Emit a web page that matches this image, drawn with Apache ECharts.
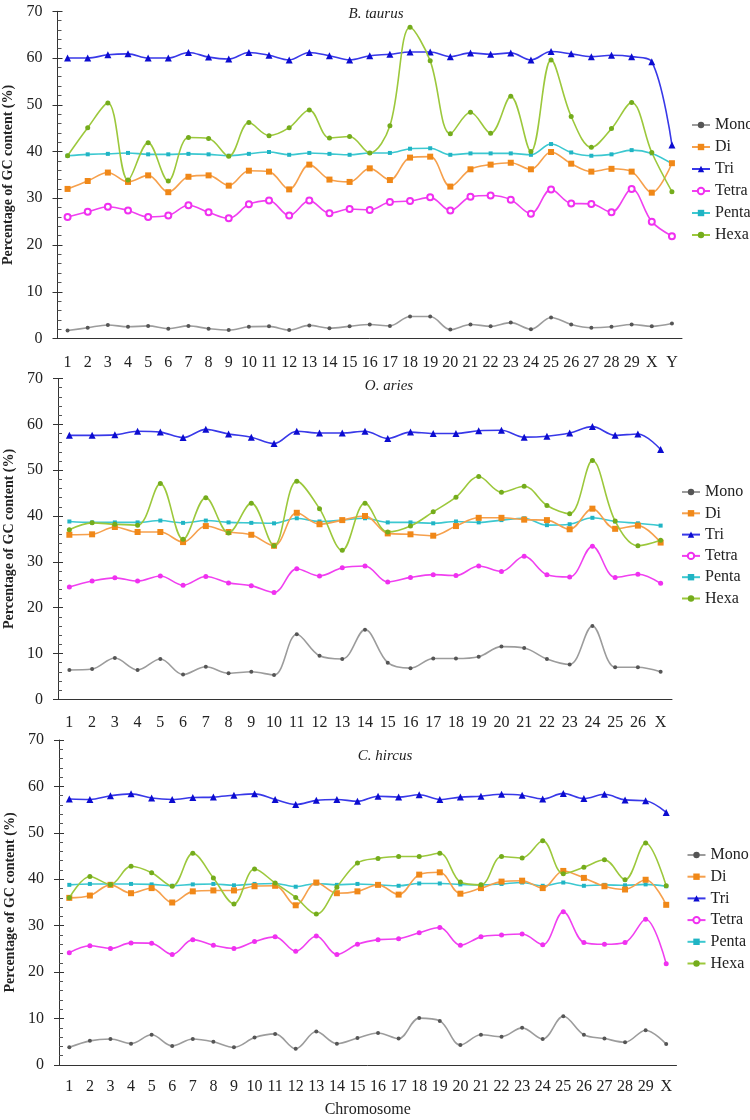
<!DOCTYPE html>
<html><head><meta charset="utf-8">
<script src="https://cdn.jsdelivr.net/npm/echarts@6/dist/echarts.min.js"></script>
<style>html,body{margin:0;padding:0;background:#fff}#c{width:750px;height:1120px}</style>
</head><body><div id="c"></div>
<script>
// ---------- data ----------
const seriesNames = ['Mono', 'Di', 'Tri', 'Tetra', 'Penta', 'Hexa'];
const panelTitles = ['B. taurus', 'O. aries', 'C. hircus'];
const yAxisName = 'Percentage of GC content (%)';
const xAxisName = 'Chromosome';

const catsTaurus = ['1','2','3','4','5','6','7','8','9','10','11','12','13','14','15','16','17','18','19','20','21','22','23','24','25','26','27','28','29','X','Y'];
const catsAries  = ['1','2','3','4','5','6','7','8','9','10','11','12','13','14','15','16','17','18','19','20','21','22','23','24','25','26','X'];
const catsHircus = ['1','2','3','4','5','6','7','8','9','10','11','12','13','14','15','16','17','18','19','20','21','22','23','24','25','26','27','28','29','X'];

// B. taurus
const taurusMono  = [1.7,2.3,2.9,2.5,2.7,2.1,2.7,2.1,1.8,2.5, 2.6,1.8,2.8,2.2,2.6,3.0,2.7,4.7,4.7,1.9, 3.0,2.6,3.4,2.0,4.5,3.0,2.3,2.5,3.0, 2.6,3.2];
const taurusDi    = [32.0,33.7,35.5,33.5,34.9,31.3,34.6,34.9,32.7,35.9, 35.7,31.9,37.2,34.0,33.5,36.4,33.9,38.7,38.9,32.5, 36.2,37.2,37.6,36.2,39.9,37.4,35.7,36.3,35.7, 31.2,37.5];
const taurusTri   = [60.0,60.0,60.7,60.9,60.0,60.0,61.2,60.2,59.8,61.2, 60.6,59.6,61.2,60.5,59.6,60.5,60.8,61.3,61.3,60.3, 61.1,60.8,61.1,59.6,61.4,60.9,60.3,60.6,60.3, 59.2,41.4];
const taurusTetra = [26.0,27.1,28.2,27.4,26.0,26.3,28.5,27.0,25.7,28.7, 29.5,26.3,29.5,26.8,27.7,27.5,29.2,29.4,30.2,27.4, 30.3,30.6,29.7,26.7,31.9,28.9,28.8,27.0,32.0, 25.0,21.9];
const taurusPenta = [39.1,39.4,39.5,39.7,39.4,39.4,39.5,39.4,39.1,39.5, 39.9,39.3,39.7,39.5,39.3,39.7,39.7,40.6,40.7,39.3, 39.6,39.6,39.6,39.3,41.6,39.8,39.1,39.4,40.3, 39.6,37.4];
const taurusHexa  = [39.1,45.1,50.4,33.9,41.9,33.7,43.0,42.8,39.0,46.2, 43.4,45.1,48.9,42.9,43.2,39.7,45.5,66.6,59.4,43.8, 48.4,43.9,51.8,40.0,59.6,47.5,40.9,44.9,50.5, 39.8,31.4];

// O. aries
const ariesMono  = [6.4,6.6,9.0,6.4,8.8,5.4,7.1,5.7,6.0,5.3, 14.2,9.5,8.8,15.2,8.0,6.8,8.9,8.9,9.3,11.5, 11.2,8.8,7.6,16.0,7.0,7.0, 6.0];
const ariesDi    = [35.9,36.0,37.6,36.5,36.5,34.3,37.8,36.5,35.9,33.5, 40.7,38.2,39.1,40.0,36.2,36.0,35.7,37.8,39.6,39.6, 39.2,39.1,37.1,41.6,37.2,37.9, 34.2];
const ariesTri   = [57.6,57.6,57.7,58.5,58.3,57.1,58.9,57.9,57.2,55.8, 58.5,58.1,58.1,58.5,56.9,58.3,58.0,58.0,58.6,58.7, 57.2,57.4,58.1,59.5,57.6,57.9, 54.5];
const ariesTetra = [24.5,25.8,26.5,25.8,26.9,24.9,26.8,25.4,24.8,23.3, 28.5,26.9,28.7,29.1,25.6,26.6,27.2,27.0,29.1,27.9, 31.2,27.2,26.7,33.4,26.6,27.3, 25.3];
const ariesPenta = [38.8,38.6,38.6,38.6,39.0,38.5,39.0,38.6,38.5,38.4, 39.5,38.8,39.1,39.5,38.6,38.6,38.4,38.8,38.6,39.1, 39.5,38.0,38.2,39.6,38.8,38.4, 37.9];
const ariesHexa  = [37.0,38.5,38.2,38.0,47.1,34.9,44.0,36.3,42.8,33.5, 47.6,41.6,32.5,42.8,36.5,37.8,40.9,44.1,48.6,45.2, 46.5,42.3,40.5,52.1,38.9,33.5, 34.7];

// C. hircus
const hircusMono  = [3.8,5.2,5.6,4.6,6.5,4.1,5.6,5.0,3.8,5.9, 6.7,3.5,7.2,4.6,5.8,6.9,5.7,10.1,9.5,4.3, 6.5,6.1,8.0,5.6,10.5,6.5,5.7,4.9,7.5, 4.5];
const hircusDi    = [36.0,36.5,38.8,37.0,38.1,35.0,37.4,37.6,37.6,38.5, 38.6,34.4,39.3,37.0,37.4,38.8,36.7,41.0,41.5,36.9, 38.1,39.5,39.7,38.1,41.8,40.3,38.5,37.8,39.9, 34.5];
const hircusTri   = [57.3,57.2,58.0,58.4,57.5,57.2,57.6,57.7,58.1,58.4, 57.2,56.1,57.0,57.2,56.8,57.9,57.7,58.2,57.2,57.7, 57.9,58.3,58.1,57.3,58.5,57.4,58.3,57.1,56.9, 54.4];
const hircusTetra = [24.2,25.7,25.1,26.3,26.2,23.8,27.0,25.8,25.1,26.6, 27.6,24.5,27.8,23.8,26.0,27.0,27.2,28.5,29.6,25.8, 27.6,28.0,28.2,25.9,33.0,26.4,26.0,26.4,31.4, 21.8];
const hircusPenta = [38.8,39.0,39.0,39.0,38.9,38.6,38.9,39.0,38.7,39.0, 39.1,38.4,39.1,38.8,39.0,38.8,38.6,39.1,39.1,38.9, 38.8,39.0,39.3,38.6,39.3,38.6,38.8,38.7,38.9, 38.5];
const hircusHexa  = [36.0,40.6,38.9,42.8,41.4,38.5,45.6,40.3,34.7,42.2, 39.2,36.1,32.5,38.3,43.5,44.5,44.9,44.9,45.6,39.4, 38.8,44.9,44.6,48.3,41.2,42.6,44.2,39.9,47.8, 38.6];

// ---------- styling ----------
const FONT = '"Liberation Serif", "Times New Roman", serif';
const TXT = '#222';
const lineColors = { Mono: '#9c9c9c', Di: '#f6a04c', Tri: '#3838e8', Tetra: '#f040f0', Penta: '#3cc8d0', Hexa: '#9cc83c' };
const markColors = { Mono: '#555555', Di: '#f08818', Tri: '#0c0cd0', Tetra: '#f030f0', Penta: '#20b4c4', Hexa: '#74ac1c' };
const symbolOf = { Mono: 'circle', Di: 'rect', Tri: 'triangle', Tetra: 'circle', Penta: 'rect', Hexa: 'circle' };
const sizeOf = { Mono: 4, Di: 6, Tri: 7, Tetra: 5, Penta: 4, Hexa: 5 };

const panels = [
  { cats: catsTaurus, data: [taurusMono, taurusDi, taurusTri, taurusTetra, taurusPenta, taurusHexa],
    grid: { left: 57.5, top: 11.3, width: 624.5, height: 327.2 }, legend: { left: 686, top: 112, gap: 6 },
    title: { x: 376, y: 14 }, tetraEmpty: true, labelMargin: 16 },
  { cats: catsAries, data: [ariesMono, ariesDi, ariesTri, ariesTetra, ariesPenta, ariesHexa],
    grid: { left: 58, top: 378.5, width: 614, height: 320.8 }, legend: { left: 676, top: 479, gap: 5.3 },
    title: { x: 389, y: 386 }, tetraEmpty: false, labelMargin: 15 },
  { cats: catsHircus, data: [hircusMono, hircusDi, hircusTri, hircusTetra, hircusPenta, hircusHexa],
    grid: { left: 59, top: 740, width: 617.5, height: 325 }, legend: { left: 681.5, top: 842, gap: 5.7 },
    title: { x: 385, y: 756 }, tetraEmpty: false, labelMargin: 14 }
];

const grids = [], xAxes = [], yAxes = [], series = [], legends = [], graphics = [];
panels.forEach((p, i) => {
  grids.push(Object.assign({ containLabel: false, outerBoundsMode: 'none' }, p.grid));
  xAxes.push({
    type: 'category', gridIndex: i, data: p.cats, boundaryGap: true,
    axisLine: { lineStyle: { color: '#333', width: 1 } },
    axisTick: { inside: true, length: 5, interval: 0, lineStyle: { color: '#333' } },
    axisLabel: { interval: 0, margin: p.labelMargin, fontFamily: FONT, fontSize: 16, color: TXT },
    splitLine: { show: false },
    name: i === 2 ? xAxisName : '', nameLocation: 'middle', nameGap: 37,
    nameTextStyle: { fontFamily: FONT, fontSize: 16, color: TXT }
  });
  yAxes.push({
    type: 'value', gridIndex: i, min: 0, max: 70, interval: 10,
    axisLine: { show: true, lineStyle: { color: '#333', width: 1 } },
    axisTick: { show: true, inside: true, length: 5, lineStyle: { color: '#333' } },
    minorTick: { show: true, splitNumber: 5, length: 4, lineStyle: { color: '#555' } },
    axisLabel: { margin: 15, fontFamily: FONT, fontSize: 16, color: TXT },
    splitLine: { show: false },
    name: yAxisName, nameLocation: 'middle', nameGap: 38,
    nameTextStyle: { fontFamily: FONT, fontSize: 14, fontWeight: 'bold', color: TXT }
  });
  p.data.forEach((vals, k) => {
    const nm = seriesNames[k];
    const empty = nm === 'Tetra' && p.tetraEmpty;
    series.push({
      type: 'line', name: nm, xAxisIndex: i, yAxisIndex: i, data: vals,
      smooth: 0.35, symbol: empty ? 'emptyCircle' : symbolOf[nm],
      symbolSize: empty ? 6 : sizeOf[nm], showSymbol: true,
      lineStyle: { color: lineColors[nm], width: 1.6 },
      itemStyle: { color: markColors[nm], borderColor: empty ? markColors[nm] : undefined, borderWidth: empty ? 1.3 : 0 },
      emphasis: { disabled: true }, z: 2 + (5 - k) * 0.1 + (nm === 'Hexa' ? 0.5 : 0)
    });
  });
  legends.push({
    orient: 'vertical', left: p.legend.left, top: p.legend.top, itemGap: p.legend.gap,
    itemWidth: 18, itemHeight: 8, itemTextGap: 3, selectedMode: false,
    data: seriesNames, textStyle: { fontFamily: FONT, fontSize: 16, color: TXT, lineHeight: 16 }
  });
  graphics.push({
    type: 'text', x: p.title.x, y: p.title.y,
    style: { text: panelTitles[i], font: 'italic 15px ' + FONT, fill: TXT, textAlign: 'center', textVerticalAlign: 'middle' }
  });
});
// extra axes: major ticks that stick out to the left of each value axis
panels.forEach((p, i) => {
  yAxes.push({
    type: 'value', gridIndex: i, min: 0, max: 70, interval: 10, position: 'left',
    axisLine: { show: false }, axisLabel: { show: false }, splitLine: { show: false },
    axisTick: { show: true, inside: false, length: 5, lineStyle: { color: '#333' } }
  });
});

const chart = echarts.init(document.getElementById('c'), null, { renderer: 'canvas' });
chart.setOption({
  backgroundColor: '#fff', animation: false,
  grid: grids, xAxis: xAxes, yAxis: yAxes, series: series, legend: legends, graphic: graphics
});
</script></body></html>
